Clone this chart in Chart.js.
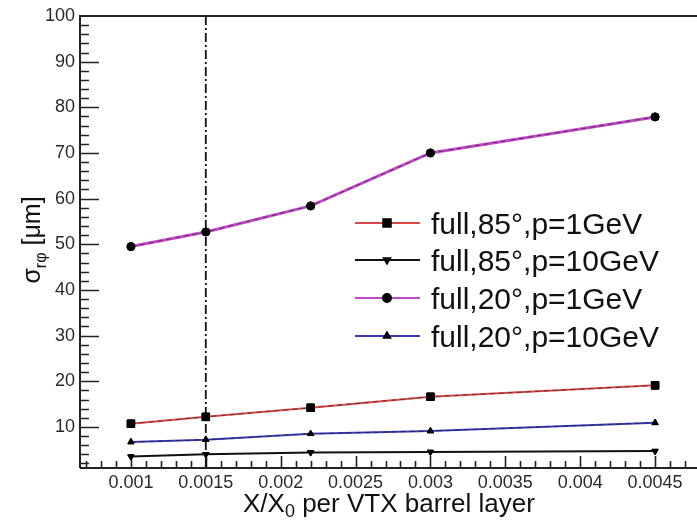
<!DOCTYPE html>
<html>
<head>
<meta charset="utf-8">
<script src="https://cdn.jsdelivr.net/npm/chart.js@4/dist/chart.umd.min.js"></script>
<style>
  html, body { margin: 0; padding: 0; background: #fff; overflow: hidden; }
  #wrap { width: 697px; height: 520px; overflow: hidden; position: relative; }
  #c { position: absolute; left: 0; top: 0; }
</style>
</head>
<body>
<div id="wrap"><canvas id="c" width="740" height="520"></canvas></div>
<script>
// ── Data ──────────────────────────────
const xValues = [0.001, 0.0015, 0.0022, 0.003, 0.0045];
const full85_1GeV  = [10.7, 12.2, 14.2, 16.6, 19.1];
const full85_10GeV = [3.5, 4.0, 4.4, 4.5, 4.7];
const full20_1GeV  = [49.5, 52.7, 58.4, 70.0, 77.9];
const full20_10GeV = [6.7, 7.2, 8.5, 9.1, 10.9];
const seriesNames = ['full,85°,p=1GeV', 'full,85°,p=10GeV', 'full,20°,p=1GeV', 'full,20°,p=10GeV'];

const xTickValues = [0.001, 0.0015, 0.002, 0.0025, 0.003, 0.0035, 0.004, 0.0045];
const xTickLabels = ['0.001', '0.0015', '0.002', '0.0025', '0.003', '0.0035', '0.004', '0.0045'];
const yTickValues = [10, 20, 30, 40, 50, 60, 70, 80, 90, 100];
const yTickLabels = ['10', '20', '30', '40', '50', '60', '70', '80', '90', '100'];
const markerLineX = 0.0015;

// the plot runs past the right edge of the picture
const X_MIN = 0.00066, X_MAX = 0.0049, Y_MIN = 1, Y_MAX = 100;
const FONT = "'Liberation Sans', Arial, sans-serif";

const pts = arr => arr.map((y, i) => ({ x: xValues[i], y }));

// ── Frame, ticks, dash-dot line ──────────
const framePlugin = {
  id: 'frame',
  beforeDatasetsDraw(chart) {
    const { ctx, chartArea: a, scales: { x, y } } = chart;
    ctx.save();
    ctx.strokeStyle = '#222';
    ctx.lineWidth = 2;
    ctx.beginPath();
    ctx.moveTo(a.left, a.bottom); ctx.lineTo(a.left, a.top); ctx.lineTo(a.right, a.top);
    ctx.moveTo(a.left, a.bottom); ctx.lineTo(a.right, a.bottom);
    ctx.stroke();

    ctx.lineWidth = 1.6;
    ctx.beginPath();
    // y ticks every 2, major every 10
    for (let v = 2; v < Y_MAX; v += 2) {
      const py = Math.round(y.getPixelForValue(v)) + 0.5;
      const len = v % 10 === 0 ? 19 : 9;
      ctx.moveTo(a.left, py); ctx.lineTo(a.left + len, py);
    }
    // x ticks every 0.0001, major every 0.0005
    for (let k = 7; k <= 48; k++) {
      const v = k / 10000;
      const px = Math.round(x.getPixelForValue(v)) + 0.5;
      const len = k % 5 === 0 ? 12 : 7;
      ctx.moveTo(px, a.bottom); ctx.lineTo(px, a.bottom - len);
    }
    ctx.stroke();

    // vertical dash-dot line
    const lx = x.getPixelForValue(markerLineX);
    ctx.setLineDash([9, 3, 2, 3]);
    ctx.lineWidth = 1.8;
    ctx.strokeStyle = '#111';
    ctx.beginPath();
    ctx.moveTo(lx, a.top); ctx.lineTo(lx, a.bottom);
    ctx.stroke();
    ctx.restore();
  },
  afterDatasetsDraw(chart) {
    // dark dashed overlay on coloured lines, then markers on top again
    const { ctx } = chart;
    ctx.save();
    chart.data.datasets.forEach((ds, i) => {
      if (!ds.overlay) return;
      const meta = chart.getDatasetMeta(i);
      ctx.strokeStyle = 'rgba(20,20,20,0.55)';
      ctx.lineWidth = 1;
      ctx.setLineDash([5, 4]);
      ctx.beginPath();
      meta.data.forEach((p, j) => j ? ctx.lineTo(p.x, p.y) : ctx.moveTo(p.x, p.y));
      ctx.stroke();
    });
    ctx.setLineDash([]);
    chart.data.datasets.forEach((ds, i) => {
      chart.getDatasetMeta(i).data.forEach(p => p.draw(ctx, chart.chartArea));
    });
    ctx.restore();
  },
  afterDraw(chart) {
    const { ctx } = chart;
    ctx.save();
    ctx.fillStyle = '#111';

    // legend
    const rows = [223, 260, 298, 336];
    chart.data.datasets.forEach((ds, i) => {
      const ry = rows[i];
      ctx.strokeStyle = ds.borderColor;
      ctx.lineWidth = 2;
      ctx.beginPath();
      ctx.moveTo(355, ry); ctx.lineTo(420, ry);
      ctx.stroke();
      ctx.fillStyle = '#000';
      ctx.strokeStyle = '#000';
      Chart.helpers.drawPoint(ctx, {
        pointStyle: ds.pointStyle, radius: ds.pointRadius, rotation: ds.pointRotation || 0, borderWidth: 1
      }, 387, ry);
      ctx.font = '30px ' + FONT;
      ctx.textAlign = 'left';
      ctx.textBaseline = 'alphabetic';
      ctx.fillStyle = '#111';
      ctx.fillText(seriesNames[i], 431, ry + 11);
    });

    // x title
    ctx.textBaseline = 'alphabetic';
    let tx = 243;
    const by = 512;
    ctx.font = '26px ' + FONT;
    ctx.fillText('X/X', tx, by); tx += ctx.measureText('X/X').width;
    ctx.font = '18px ' + FONT;
    ctx.fillText('0', tx, by + 5); tx += ctx.measureText('0').width;
    ctx.font = '26px ' + FONT;
    ctx.fillText(' per VTX barrel layer', tx, by);

    // y title
    ctx.translate(40, 240);
    ctx.rotate(-Math.PI / 2);
    ctx.font = '25px ' + FONT;
    const w1 = ctx.measureText('σ').width;
    const w3 = ctx.measureText(' [μm]').width;
    ctx.font = '16px ' + FONT;
    const w2 = ctx.measureText('rφ').width;
    let sx = -(w1 + w2 + w3) / 2;
    ctx.font = '25px ' + FONT;
    ctx.fillText('σ', sx, 0); sx += w1;
    ctx.font = '16px ' + FONT;
    ctx.fillText('rφ', sx, 6); sx += w2;
    ctx.font = '25px ' + FONT;
    ctx.fillText(' [μm]', sx, 0);
    ctx.restore();
  }
};

const ctx = document.getElementById('c').getContext('2d');
new Chart(ctx, {
  type: 'line',
  data: {
    datasets: [
      {
        label: seriesNames[0], data: pts(full85_1GeV),
        borderColor: '#d94848', borderWidth: 2, overlay: true,
        pointStyle: 'rect', pointRadius: 5.3
      },
      {
        label: seriesNames[1], data: pts(full85_10GeV),
        borderColor: '#111', borderWidth: 2,
        pointStyle: 'triangle', pointRotation: 180, pointRadius: 3.6
      },
      {
        label: seriesNames[2], data: pts(full20_1GeV),
        borderColor: '#c24ac8', borderWidth: 3, overlay: true,
        pointStyle: 'circle', pointRadius: 4
      },
      {
        label: seriesNames[3], data: pts(full20_10GeV),
        borderColor: '#3a3ab4', borderWidth: 2, overlay: true,
        pointStyle: 'triangle', pointRadius: 3.6
      }
    ].map(d => Object.assign({
      pointBackgroundColor: '#000', pointBorderColor: '#000', pointBorderWidth: 1,
      tension: 0, fill: false
    }, d))
  },
  options: {
    responsive: false,
    animation: false,
    layout: { padding: { top: 16, right: 25, left: 0, bottom: 0 } },
    plugins: { legend: { display: false }, tooltip: { enabled: false } },
    scales: {
      x: {
        type: 'linear', min: X_MIN, max: X_MAX,
        afterBuildTicks: s => { s.ticks = xTickValues.map(v => ({ value: v })); },
        afterFit: s => { s.height = 52; },
        grid: { display: false, drawTicks: false },
        border: { display: false },
        ticks: {
          callback: (v, i) => xTickLabels[i],
          font: { family: FONT, size: 18 }, color: '#2a2a2a',
          padding: 4, maxRotation: 0, autoSkip: false
        }
      },
      y: {
        min: Y_MIN, max: Y_MAX,
        afterBuildTicks: s => { s.ticks = yTickValues.map(v => ({ value: v })); },
        afterFit: s => { s.width = 80; },
        grid: { display: false, drawTicks: false },
        border: { display: false },
        ticks: {
          callback: (v, i) => yTickLabels[i],
          font: { family: FONT, size: 18 }, color: '#2a2a2a',
          padding: 5, autoSkip: false
        }
      }
    }
  },
  plugins: [framePlugin]
});
</script>
</body>
</html>
